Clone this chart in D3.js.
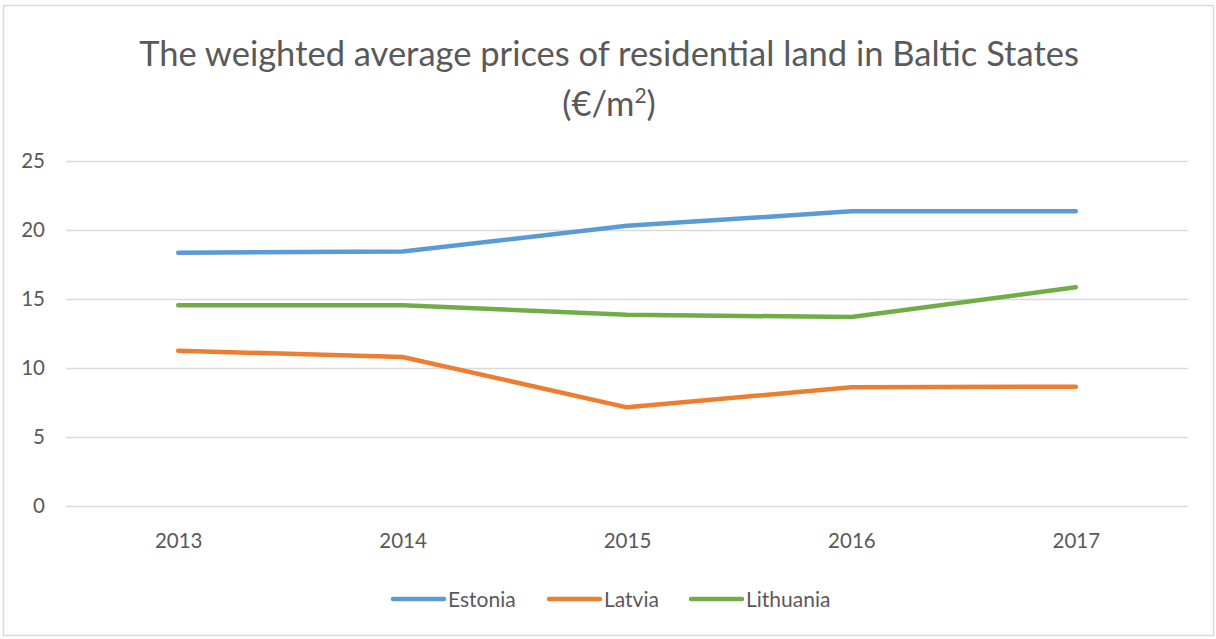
<!DOCTYPE html>
<html>
<head>
<meta charset="utf-8">
<script src="https://cdn.jsdelivr.net/npm/d3@7.9.0/dist/d3.min.js"></script>
<style>
  body { margin: 0; background: #fff; }
  svg { display: block; font-family: Lato, "Open Sans", sans-serif; }
</style>
</head>
<body>
<svg width="1216" height="639"></svg>
<script>
const years = ['2013', '2014', '2015', '2016', '2017'];
const estonia = [18.35, 18.45, 20.3, 21.35, 21.35];
const latvia = [11.25, 10.8, 7.15, 8.6, 8.65];
const lithuania = [14.55, 14.55, 13.85, 13.7, 15.85];
const yTicks = [0, 5, 10, 15, 20, 25];

const series = [
  { name: 'Estonia', values: estonia, color: '#5b9bd5' },
  { name: 'Latvia', values: latvia, color: '#ed7d31' },
  { name: 'Lithuania', values: lithuania, color: '#70ad47' }
];

const svg = d3.select('svg');
const textColor = '#595959';

svg.append('rect')
  .attr('x', 3.5).attr('y', 5.5)
  .attr('width', 1210).attr('height', 630)
  .attr('fill', '#fff').attr('stroke', '#d9d9d9').attr('stroke-width', 1.5);

const plotLeft = 66, plotRight = 1188, plotTop = 161, plotBottom = 506;

let x = d3.scalePoint().domain(years).range([plotLeft, plotRight]).padding(0.5);
let y = d3.scaleLinear().domain([0, 25]).range([plotBottom, plotTop]);

// title
const title = svg.append('text')
  .attr('text-anchor', 'middle')
  .attr('fill', textColor)
  .attr('font-size', 34.5);
title.append('tspan').attr('x', 609).attr('y', 66)
  .text('The weighted average prices of residential land in Baltic States');
const t2 = title.append('tspan').attr('x', 609).attr('y', 116).text('(€/m');
t2.append('tspan').attr('font-size', 21).attr('dy', -13).text('2');
t2.append('tspan').attr('dy', 13).text(')');

// gridlines + y labels
let yAxis = d3.axisLeft(y).tickValues(yTicks).tickSize(-(plotRight - plotLeft));
let gy = svg.append('g').attr('transform', `translate(${plotLeft},0)`).call(yAxis);
gy.select('.domain').remove();
gy.selectAll('.tick line').attr('stroke', '#d9d9d9').attr('stroke-width', 1.3);
gy.selectAll('.tick text').attr('fill', textColor).attr('font-size', 20.5)
  .attr('font-family', 'Lato, sans-serif').attr('x', -21);

// x labels
let xAxis = d3.axisBottom(x).tickSize(0).tickPadding(27);
let gx = svg.append('g').attr('transform', `translate(0,${plotBottom})`).call(xAxis);
gx.select('.domain').remove();
gx.selectAll('.tick text').attr('fill', textColor).attr('font-size', 20.5)
  .attr('font-family', 'Lato, sans-serif');

// lines
let line = d3.line().x((d, i) => x(years[i])).y(d => y(d));
series.forEach(s => {
  svg.append('path')
    .attr('d', line(s.values))
    .attr('fill', 'none')
    .attr('stroke', s.color)
    .attr('stroke-width', 4.5)
    .attr('stroke-linecap', 'round')
    .attr('stroke-linejoin', 'round');
});

// legend
const legendX = [393, 549, 691];
series.forEach((s, i) => {
  let g = svg.append('g').attr('transform', `translate(${legendX[i]},599)`);
  g.append('line').attr('x1', 0).attr('x2', 51).attr('y1', 0).attr('y2', 0)
    .attr('stroke', s.color).attr('stroke-width', 4.5).attr('stroke-linecap', 'round');
  g.append('text').attr('x', 55).attr('y', 8).attr('fill', textColor)
    .attr('font-size', 21).text(s.name);
});
</script>
</body>
</html>
